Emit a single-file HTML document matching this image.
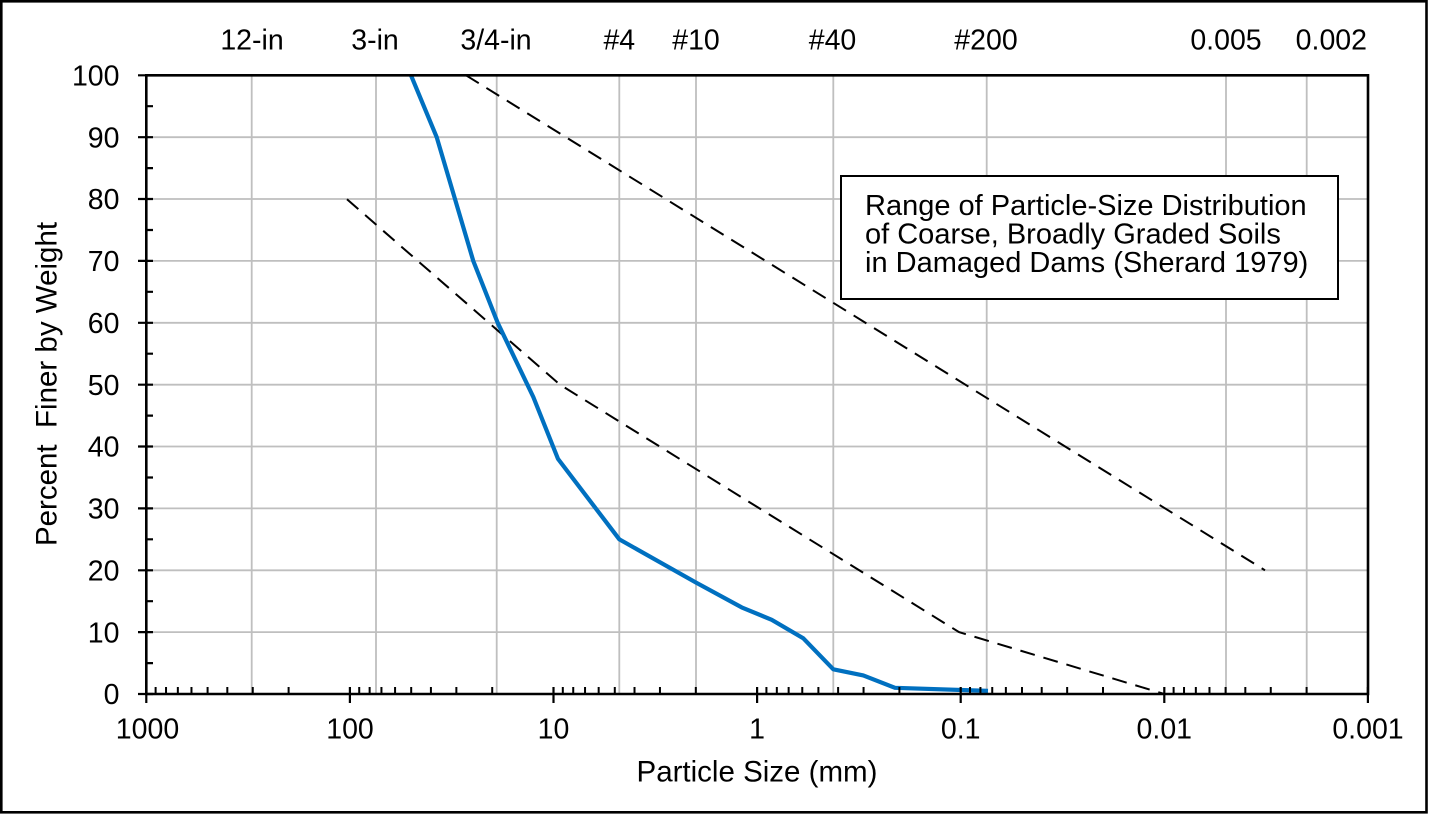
<!DOCTYPE html>
<html>
<head>
<meta charset="utf-8">
<style>
  html,body{margin:0;padding:0;background:#fff;}
  svg{display:block;}
  text{font-family:"Liberation Sans",Arial,sans-serif;fill:#000;}
</style>
</head>
<body>
<svg width="1430" height="815" viewBox="0 0 1430 815" xmlns="http://www.w3.org/2000/svg">
  <rect x="0" y="0" width="1430" height="815" fill="#fff"/>
  <!-- outer frame -->
  <rect x="1.3" y="1.3" width="1425.2" height="811" fill="none" stroke="#000" stroke-width="2.6"/>

  <!-- horizontal gridlines -->
  <g stroke="#BFBFBF" stroke-width="1.8" fill="none">
    <path d="M146.3 632.1H1368 M146.3 570.3H1368 M146.3 508.4H1368 M146.3 446.5H1368 M146.3 384.7H1368 M146.3 322.8H1368 M146.3 260.9H1368 M146.3 199H1368 M146.3 137.2H1368"/>
    <!-- vertical gridlines at sieve sizes -->
    <path d="M251.7 75.3V694 M376 75.3V694 M496.7 75.3V694 M619.3 75.3V694 M696 75.3V694 M833.3 75.3V694 M986.7 75.3V694 M1226 75.3V694 M1306.7 75.3V694"/>
  </g>

  <!-- dashed envelope lines -->
  <g stroke="#000" stroke-width="2" fill="none" stroke-dasharray="15 9">
    <polyline points="466,75.3 1265,570.3"/>
    <polyline points="347,199.3 560,384.7 959,632.1 1164.3,694"/>
  </g>

  <!-- blue gradation curve -->
  <polyline fill="none" stroke="#0070C0" stroke-width="4.2" stroke-linejoin="round"
    points="411,75.3 436.7,137.2 473.3,261 497.7,322.8 533.3,397 558,458.9 619.3,539.3 696,582.6 741.7,607.4 771.7,619.8 803.3,638.3 833.3,669.3 863.3,675.4 895,687.8 988,690.9"/>

  <!-- plot area border / axes -->
  <g stroke="#000" fill="none">
    <path d="M146.3 75.3H1368V694H146.3Z" stroke-width="2.6"/>
    <path stroke-width="2.2" d="M138 694H153 M138 632.1H153 M138 570.3H153 M138 508.4H153 M138 446.5H153 M138 384.7H153 M138 322.8H153 M138 260.9H153 M138 199H153 M138 137.2H153 M138 75.3H153"/>
    <path stroke-width="2.2" d="M146 663.1H153 M146 601.2H153 M146 539.3H153 M146 477.5H153 M146 415.6H153 M146 353.7H153 M146 291.8H153 M146 230H153 M146 168.1H153 M146 106.2H153"/>
    <path stroke-width="2.2" d="M146.3 687V703 M349.9 687V703 M553.5 687V703 M757.1 687V703 M960.7 687V703 M1164.3 687V703 M1367.9 687V703"/>
    <path stroke-width="2" d="
      M155.62 687V694 M166.03 687V694 M177.84 687V694 M191.47 687V694 M207.59 687V694 M227.32 687V694 M252.76 687V694 M288.61 687V694
      M359.22 687V694 M369.63 687V694 M381.44 687V694 M395.07 687V694 M411.19 687V694 M430.92 687V694 M456.36 687V694 M492.21 687V694
      M562.82 687V694 M573.23 687V694 M585.04 687V694 M598.67 687V694 M614.79 687V694 M634.52 687V694 M659.96 687V694 M695.81 687V694
      M766.42 687V694 M776.83 687V694 M788.64 687V694 M802.27 687V694 M818.39 687V694 M838.12 687V694 M863.56 687V694 M899.41 687V694
      M970.02 687V694 M980.43 687V694 M992.24 687V694 M1005.87 687V694 M1021.99 687V694 M1041.72 687V694 M1067.16 687V694 M1103.01 687V694
      M1173.62 687V694 M1184.03 687V694 M1195.84 687V694 M1209.47 687V694 M1225.59 687V694 M1245.32 687V694 M1270.76 687V694 M1306.61 687V694"/>
  </g>

  <!-- y tick labels -->
  <g font-size="28.5" text-anchor="end">
    <text x="119.5" y="704.2">0</text>
    <text x="119.5" y="642.3">10</text>
    <text x="119.5" y="580.5">20</text>
    <text x="119.5" y="518.6">30</text>
    <text x="119.5" y="456.7">40</text>
    <text x="119.5" y="394.9">50</text>
    <text x="119.5" y="333">60</text>
    <text x="119.5" y="271.1">70</text>
    <text x="119.5" y="209.2">80</text>
    <text x="119.5" y="147.4">90</text>
    <text x="119.5" y="85.5">100</text>
  </g>

  <!-- x tick labels -->
  <g font-size="28.5" text-anchor="middle">
    <text x="147.5" y="738.5">1000</text>
    <text x="350" y="738.5">100</text>
    <text x="553.5" y="738.5">10</text>
    <text x="757.1" y="738.5">1</text>
    <text x="960.7" y="738.5">0.1</text>
    <text x="1164.3" y="738.5">0.01</text>
    <text x="1368" y="738.5">0.001</text>
  </g>

  <!-- top sieve labels -->
  <g font-size="28.5" text-anchor="middle">
    <text x="252" y="49.3">12-in</text>
    <text x="375" y="49.3">3-in</text>
    <text x="496" y="49.3">3/4-in</text>
    <text x="619.3" y="49.3">#4</text>
    <text x="696" y="49.3">#10</text>
    <text x="832.5" y="49.3">#40</text>
    <text x="986" y="49.3">#200</text>
    <text x="1226" y="49.3">0.005</text>
    <text x="1367" y="49.3" text-anchor="end">0.002</text>
  </g>

  <!-- axis titles -->
  <text x="757" y="781.5" font-size="29.5" text-anchor="middle">Particle Size (mm)</text>
  <text transform="translate(56.5,384) rotate(-90)" font-size="29.5" text-anchor="middle">Percent&#160; Finer by Weight</text>

  <!-- legend / annotation box -->
  <rect x="841" y="176" width="497" height="123" fill="#fff" stroke="#000" stroke-width="2"/>
  <g font-size="29">
    <text x="865" y="215">Range of Particle-Size Distribution</text>
    <text x="865" y="243.5">of Coarse, Broadly Graded Soils</text>
    <text x="865" y="272">in Damaged Dams (Sherard 1979)</text>
  </g>
</svg>
</body>
</html>
